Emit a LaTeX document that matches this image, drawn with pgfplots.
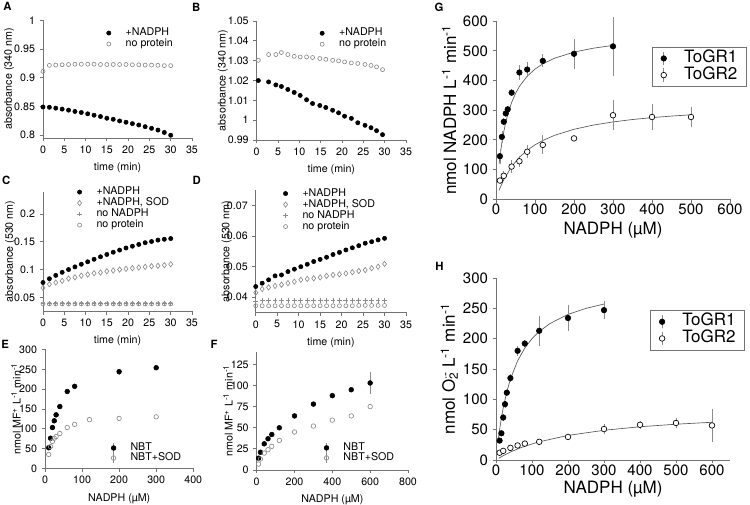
\documentclass[border=0pt]{standalone}
\usepackage{pgfplots}
\pgfplotsset{compat=1.18}
\usepackage{fontspec}
\setmainfont{TeX Gyre Heros}
\definecolor{axgray}{gray}{0.45}
\definecolor{mkgray}{gray}{0.55}
\definecolor{curvegray}{gray}{0.35}
\newcommand{\smallfont}{\fontsize{8}{9}\selectfont}
\newcommand{\bigtick}{\fontsize{11.25}{12}\selectfont}
\newcommand{\biglab}{\fontsize{12.75}{13}\selectfont}
\pgfplotsset{
  kg/.style={
    scale only axis, anchor=south west, clip=false,
    axis x line*=bottom, axis y line*=left,
    axis line style={axgray, line width=0.6pt, -},
    every tick/.style={axgray, line width=0.6pt},
    tick align=outside, major tick length=2.5pt,
    /pgf/number format/assume math mode=true,
    scaled ticks=false,
    /pgf/number format/fixed,
  },
  sm/.style={kg,
    tick label style={font=\smallfont},
    label style={font=\smallfont},
    legend style={draw=none, fill=none, font=\smallfont, inner sep=0pt, row sep=0pt,
        nodes={inner xsep=1pt, inner ysep=0pt, text height=6pt, text depth=2.25pt}},
    legend cell align=left,
  },
  bg/.style={kg,
    tick label style={font=\bigtick},
    xticklabel style={inner sep=1pt},
    label style={font=\biglab},
    legend style={draw=axgray, fill=white, font=\biglab, inner xsep=5.7pt, inner ysep=2.4pt, row sep=0pt,
        nodes={inner xsep=1pt, inner ysep=0pt, text height=9.3pt, text depth=3.2pt}},
    legend cell align=left,
  },
  lgi/.style={legend image code/.code={
      \draw[##1] plot coordinates {(0pt,0pt)};
      \path (-2pt,0pt) (11.5pt,0pt);}},
  fdot/.style={only marks, mark=*, mark size=1.6pt, black, lgi},
  ocirc/.style={only marks, mark=o, mark size=1.5pt, mkgray, mark options={line width=0.5pt}, lgi},
  odiam/.style={only marks, mark=diamond, mark size=2pt, mkgray, mark options={line width=0.5pt}, lgi},
  pls/.style={only marks, mark=+, mark size=1.8pt, mkgray, mark options={line width=0.5pt}, lgi},
  legat/.style 2 args={legend style={at={(axis description cs:#1,#2)}, anchor=north west, xshift=-2pt, yshift=4.1pt}},
  legate/.style 2 args={legend style={at={(axis description cs:#1,#2)}, anchor=north west, xshift=-3pt, yshift=3.75pt,
      nodes={inner xsep=1pt, inner ysep=0pt, text height=5.5pt, text depth=2pt}}},
  ebleg/.style={legend image code/.code={
      \draw[mkgray, line width=0.5pt] (0pt,-5pt) -- (0pt,5pt);
      \draw[##1] plot coordinates {(0pt,0pt)};
      \path (-3pt,0pt) (14pt,0pt);}},
  ebsm/.style={legend image code/.code={
      \draw[mkgray, line width=0.5pt] (0pt,-3.5pt) -- (0pt,3.5pt);
      \draw[##1] plot coordinates {(0pt,0pt)};
      \path (-3pt,0pt) (11.5pt,0pt);}},
  eb/.style={error bars/.cd, y dir=both, y explicit, error bar style={mkgray, line width=0.5pt}, error mark=none},
  yl/.style={ylabel style={at={(axis description cs:#1,0.5)}, anchor=center}},
}
\begin{document}
\begin{tikzpicture}

% ---------- A ----------
\begin{axis}[sm, at={(32.25pt,275.25pt)}, width=111.75pt, height=88.5pt,
  xmin=0, xmax=35, ymin=0.795, ymax=1.0005, xtick={0,5,...,35}, ytick={0.8,0.85,0.9,0.95,1},
  xlabel={time (min)}, ylabel={absorbance (340 nm)}, yl=-0.228, legat={0.438}{0.892}]
\addplot[fdot] coordinates {(0,0.849)(1.5,0.8485)(3,0.847)(4.5,0.8453)(6,0.8435)(7.5,0.8412)(9,0.8394)(10.5,0.8371)(12,0.8347)(13.5,0.8324)(15,0.8294)(16.5,0.8276)(18,0.8247)(19.5,0.8224)(21,0.82)(22.5,0.8176)(24,0.8147)(25.5,0.8118)(27,0.8088)(28.5,0.8047)(30,0.7998)};
\addlegendentry{+NADPH}
\addplot[ocirc] coordinates {(0,0.911)(1.5,0.9215)(3,0.922)(4.5,0.9225)(6,0.923)(7.5,0.9235)(9,0.9235)(10.5,0.9235)(12,0.9235)(13.5,0.923)(15,0.923)(16.5,0.923)(18,0.923)(19.5,0.923)(21,0.9225)(22.5,0.9225)(24,0.922)(25.5,0.922)(27,0.9215)(28.5,0.921)(30,0.921)};
\addlegendentry{no protein}
\end{axis}

% ---------- B ----------
\begin{axis}[sm, at={(192.5pt,273.75pt)}, width=112pt, height=89.5pt,
  xmin=0, xmax=35, ymin=0.99, ymax=1.0502, xtick={0,5,...,35}, ytick={0.99,1,1.01,1.02,1.03,1.04,1.05},
  xlabel={time (min)}, ylabel={absorbance (340 nm)}, yl=-0.226, legat={0.435}{0.897}]
\addplot[fdot] coordinates {(0.4,1.0200)(2.8,1.0193)(4.5,1.0178)(5.8,1.0170)(7.3,1.0155)(8.8,1.0140)(10.2,1.0125)(11.7,1.0103)(13.1,1.0084)(14.8,1.0074)(16.2,1.0064)(17.8,1.0050)(19.2,1.0037)(20.6,1.0020)(22.2,1.0009)(23.7,0.9987)(25.4,0.9974)(26.8,0.9962)(28.1,0.9947)(29.5,0.9927)};
\addlegendentry{+NADPH}
\addplot[ocirc] coordinates {(0.4,1.0302)(2.8,1.0331)(4.5,1.0331)(5.8,1.0341)(7.3,1.0331)(8.8,1.0322)(10.2,1.0319)(11.7,1.0319)(13.1,1.0316)(14.8,1.0311)(16.2,1.0307)(17.8,1.0302)(19.2,1.0299)(20.6,1.0294)(22.2,1.0289)(23.7,1.0286)(25.4,1.0281)(26.8,1.0276)(28.1,1.0269)(29.5,1.0255)};
\addlegendentry{no protein}
\end{axis}

% ---------- C ----------
\begin{axis}[sm, at={(32.25pt,145.35pt)}, width=111.75pt, height=89.55pt,
  xmin=0, xmax=35, ymin=0.025, ymax=0.24, xtick={0,5,...,35}, ytick={0.05,0.1,0.15,0.2},
  xlabel={time (min)}, ylabel={absorbance (530 nm)}, yl=-0.221, legat={0.242}{1.0}]
\addplot[fdot] coordinates {(0,0.0766)(1.5,0.0835)(3,0.0895)(4.5,0.0950)(6,0.1000)(7.5,0.1048)(9,0.1095)(10.5,0.1140)(12,0.1185)(13.5,0.1230)(15,0.1272)(16.5,0.1312)(18,0.1350)(19.5,0.1388)(21,0.1420)(22.5,0.1452)(24,0.1483)(25.5,0.1505)(27,0.1530)(28.5,0.1545)(30,0.1558)};
\addlegendentry{+NADPH}
\addplot[odiam] coordinates {(0,0.067)(1.5,0.0736)(3,0.0766)(4.5,0.0796)(6,0.0838)(7.5,0.086)(9,0.089)(10.5,0.091)(12,0.0934)(13.5,0.0946)(15,0.097)(16.5,0.0982)(18,0.100)(19.5,0.1012)(21,0.1024)(22.5,0.1036)(24,0.1048)(25.5,0.106)(27,0.1066)(28.5,0.1078)(30,0.1096)};
\addlegendentry{+NADPH, SOD}
\addplot[pls] coordinates {(0,0.0385)(1.5,0.0385)(3,0.0385)(4.5,0.0385)(6,0.0385)(7.5,0.0385)(9,0.0385)(10.5,0.0385)(12,0.0385)(13.5,0.0385)(15,0.0385)(16.5,0.0385)(18,0.0385)(19.5,0.0385)(21,0.0385)(22.5,0.0385)(24,0.0385)(25.5,0.0385)(27,0.0385)(28.5,0.0385)(30,0.0385)};
\addlegendentry{no NADPH}
\addplot[ocirc] coordinates {(0,0.038)(1.5,0.038)(3,0.038)(4.5,0.038)(6,0.038)(7.5,0.038)(9,0.038)(10.5,0.038)(12,0.038)(13.5,0.038)(15,0.038)(16.5,0.038)(18,0.038)(19.5,0.038)(21,0.038)(22.5,0.038)(24,0.038)(25.5,0.038)(27,0.038)(28.5,0.038)(30,0.038)};
\addlegendentry{no protein}
\end{axis}

% ---------- D ----------
\begin{axis}[sm, at={(191.8pt,144.4pt)}, width=112.7pt, height=91.5pt,
  xmin=0, xmax=35, ymin=0.035, ymax=0.075, xtick={0,5,...,35}, ytick={0.04,0.05,0.06,0.07},
  xlabel={time (min)}, ylabel={absorbance (530 nm)}, yl=-0.193, legat={0.195}{0.977}]
\addplot[fdot] coordinates {(0,0.0435)(1.5,0.0446)(3,0.0457)(4.5,0.047)(6,0.0473)(7.5,0.0484)(9,0.0492)(10.5,0.050)(12,0.0508)(13.5,0.0517)(15,0.0524)(16.5,0.0531)(18,0.054)(19.5,0.0547)(21,0.0555)(22.5,0.0562)(24,0.0569)(25.5,0.0577)(27,0.0582)(28.5,0.0588)(30,0.0593)};
\addlegendentry{+NADPH}
\addplot[odiam] coordinates {(0,0.0415)(1.5,0.0427)(3,0.0432)(4.5,0.0437)(6,0.0441)(7.5,0.0446)(9,0.0451)(10.5,0.0457)(12,0.046)(13.5,0.0462)(15,0.0465)(16.5,0.047)(18,0.0473)(19.5,0.0475)(21,0.0478)(22.5,0.0482)(24,0.0486)(25.5,0.0489)(27,0.0495)(28.5,0.050)(30,0.0509)};
\addlegendentry{+NADPH, SOD}
\addplot[pls] coordinates {(0,0.0386)(1.5,0.039)(3,0.039)(4.5,0.039)(6,0.039)(7.5,0.039)(9,0.039)(10.5,0.039)(12,0.039)(13.5,0.039)(15,0.039)(16.5,0.039)(18,0.039)(19.5,0.039)(21,0.039)(22.5,0.039)(24,0.039)(25.5,0.039)(27,0.039)(28.5,0.039)(30,0.039)};
\addlegendentry{no NADPH}
\addplot[ocirc] coordinates {(0,0.0372)(1.5,0.0372)(3,0.0372)(4.5,0.0372)(6,0.0372)(7.5,0.0372)(9,0.0372)(10.5,0.0372)(12,0.0372)(13.5,0.0372)(15,0.0372)(16.5,0.0372)(18,0.0372)(19.5,0.0372)(21,0.0372)(22.5,0.0372)(24,0.0373)(25.5,0.0373)(27,0.0373)(28.5,0.0373)(30,0.0373)};
\addlegendentry{no protein}
\end{axis}

% ---------- E ----------
\begin{axis}[sm, at={(33.75pt,27.5pt)}, width=111.2pt, height=89.25pt,
  xmin=0, xmax=400, ymin=0, ymax=300.5, xtick={0,100,...,400}, ytick={0,50,...,300},
  xlabel={NADPH (µM)}, ylabel={nmol MF\textsuperscript{+} L\textsuperscript{-1} min\textsuperscript{-1}}, yl=-0.196, legate={0.459}{0.173}]
\addplot[only marks, mark=*, mark size=1.8pt, black, ebsm, eb] table[x=x,y=y,y error=e] {
x y e
10 52 0
15 76 0
20 103 0
25 120 0
30 135 0
40 156 0
60 194 0
80 207 0
200 244 8
300 254 0
};
\addlegendentry{NBT}
\addplot[only marks, mark=o, mark size=1.7pt, mkgray, mark options={line width=0.5pt}, ebsm, eb] table[x=x,y=y,y error=e] {
x y e
10 35 0
15 55 0
20 68 0
25 76 0
30 80 0
40 88 0
60 103 0
80 111 0
120 123 0
200 126 0
300 130 0
};
\addlegendentry{NBT+SOD}
\end{axis}

% ---------- F ----------
\begin{axis}[sm, at={(192.5pt,26.25pt)}, width=113.5pt, height=88.7pt,
  xmin=0, xmax=800, ymin=0, ymax=140, xtick={0,200,...,800}, ytick={0,25,...,125},
  xlabel={NADPH (µM)}, ylabel={nmol MF\textsuperscript{+} L\textsuperscript{-1} min\textsuperscript{-1}}, yl=-0.19, legate={0.458}{0.189}]
\addplot[only marks, mark=*, mark size=1.8pt, black, ebsm, eb] table[x=x,y=y,y error=e] {
x y e
10 14 0
20 21 0
40 31 0
60 37 0
80 42 0
120 50 0
200 64 0
300 78 0
400 88 0
500 95 0
600 103 13
};
\addlegendentry{NBT}
\addplot[only marks, mark=o, mark size=1.7pt, mkgray, mark options={line width=0.5pt}, ebsm, eb] table[x=x,y=y,y error=e] {
x y e
10 7 0
20 13 0
40 20 0
60 24 0
80 28 0
120 35 0
200 45 0
300 52 0
400 59 0
500 64 0
600 75 0
};
\addlegendentry{NBT+SOD}
\end{axis}

% ---------- G ----------
\begin{axis}[bg, at={(372pt,229.3pt)}, width=175.5pt, height=133.7pt,
  xmin=0, xmax=600, ymin=0, ymax=600.5, xtick={0,100,...,600}, ytick={0,100,...,600},
  xlabel={NADPH (µM)}, ylabel={nmol NADPH L\textsuperscript{-1} min\textsuperscript{-1}}, yl=-0.2,
  xlabel style={at={(axis description cs:0.5,-0.174)}, anchor=center},
  legend style={at={(axis description cs:0.665,0.856)}, anchor=north west}]
\addplot[curvegray, line width=0.5pt, no marks, forget plot] coordinates {(8,120)(10,142.5)(15,190)(20,228)(25,259.1)(30,285)(40,325.7)(50,356.3)(60,380)(80,414.5)(100,438.5)(120,456)(150,475)(200,495.7)(250,508.9)(300,518.2)};
\addplot[curvegray, line width=0.5pt, no marks, forget plot] coordinates {(8,30)(10,36.7)(20,66)(40,110)(60,141.4)(80,165)(100,183.3)(120,198)(150,215.2)(200,235.7)(250,250)(300,260.5)(350,268.6)(400,275)(450,280.2)(500,284.5)};
\addplot[only marks, mark=*, mark size=2.1pt, black, ebleg, eb] table[x=x,y=y,y error=e] {
x y e
10 145 25
15 210 20
20 261 12
25 289 10
30 303 10
40 359 12
60 427 24
80 437 25
120 466 22
200 490 50
300 515 100
};
\addlegendentry{ToGR1}
\addplot[only marks, mark=*, mark size=2.1pt, black, mark options={fill=white, draw=black, line width=0.5pt}, ebleg, eb] table[x=x,y=y,y error=e] {
x y e
10 63 10
20 79 15
40 110 22
60 128 18
80 160 22
120 183 32
200 205 8
300 283 50
400 277 45
500 277 34
};
\addlegendentry{ToGR2}
\end{axis}

% ---------- H ----------
\begin{axis}[bg, at={(372pt,33.75pt)}, width=175.5pt, height=136.7pt,
  xmin=0, xmax=650, ymin=0, ymax=300.5, xtick={0,100,...,600}, ytick={0,50,...,300},
  xlabel={NADPH (µM)}, ylabel={nmol O\rlap{\textsuperscript{$\cdot$-}}\textsubscript{2} L\textsuperscript{-1} min\textsuperscript{-1}}, yl=-0.2,
  xlabel style={at={(axis description cs:0.5,-0.158)}, anchor=center},
  legend style={at={(axis description cs:0.658,0.823)}, anchor=north west}]
\addplot[curvegray, line width=0.5pt, no marks, forget plot] coordinates {(6,32.1)(10,50)(15,69.2)(20,85.7)(30,112.5)(40,133.3)(60,163.6)(80,184.6)(100,200)(120,211.8)(150,225)(200,240)(250,250)(300,257.1)};
\addplot[curvegray, line width=0.5pt, no marks, forget plot] coordinates {(8,3)(20,7.1)(40,13.1)(60,18.2)(80,22.7)(120,30)(200,40.5)(300,49)(400,54.8)(500,59)(600,62.2)};
\addplot[only marks, mark=*, mark size=2.1pt, black, ebleg, eb] table[x=x,y=y,y error=e] {
x y e
10 32 4
15 44 5
20 70 6
25 92 6
30 111 5
40 135 6
60 180 8
80 192 6
120 213 25
200 234 22
300 247 15
};
\addlegendentry{ToGR1}
\addplot[only marks, mark=*, mark size=2.1pt, black, mark options={fill=white, draw=black, line width=0.5pt}, ebleg, eb] table[x=x,y=y,y error=e] {
x y e
10 12 3
20 15 3
40 20 3
60 24 3
80 27 3
120 30 3
200 38 4
300 51 8
400 58 7
500 61 8
600 57 27
};
\addlegendentry{ToGR2}
\end{axis}

% panel letters
\begin{scope}[every node/.style={font=\bfseries\fontsize{8.5}{9}\selectfont, inner sep=0pt}]
\node at (5.63pt,373.7pt) {A};
\node at (147.2pt,373.5pt) {B};
\node at (4.73pt,243.75pt) {C};
\node at (147.5pt,243.15pt) {D};
\node at (3.9pt,120.75pt) {E};
\node at (160.5pt,120.4pt) {F};
\node at (329.25pt,373.1pt) {G};
\node at (329.6pt,179pt) {H};
\end{scope}
\pgfresetboundingbox
\path[use as bounding box] (0,0) rectangle (562.5pt,378.75pt);
\end{tikzpicture}
\end{document}
